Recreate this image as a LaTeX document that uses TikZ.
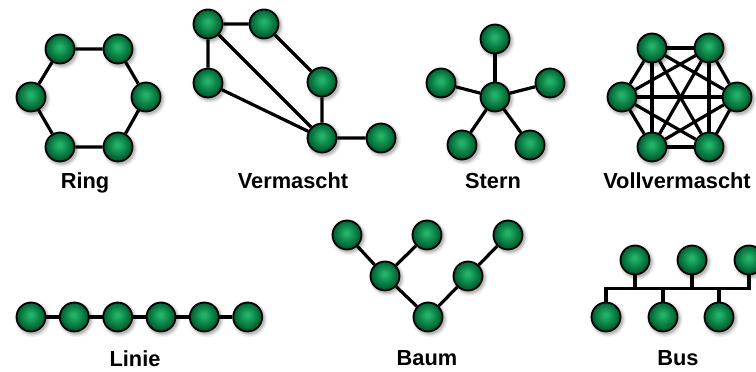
\documentclass[tikz,border=0pt]{standalone}
\usepackage{fontspec}
\setmainfont{Liberation Sans}
\usetikzlibrary{shadows}
\definecolor{nodelight}{RGB}{34,178,104}
\definecolor{nodedark}{RGB}{0,102,52}
\pgfdeclareradialshading{greenball}{\pgfpoint{-1bp}{4bp}}{color(0bp)=(nodelight); color(3bp)=(nodelight); color(22bp)=(nodedark); color(25bp)=(nodedark!85!black); color(50bp)=(nodedark!85!black)}
\pgfdeclarelayer{bg}
\pgfsetlayers{bg,main}
\tikzset{
  nd/.style={circle, draw=black, line width=1.8pt, minimum size=29pt, inner sep=0pt,
    shading=greenball,
    circular drop shadow={shadow xshift=1.2pt, shadow yshift=-1.5pt, shadow scale=1.28, opacity=0.10, fill=black},
    circular drop shadow={shadow xshift=1.2pt, shadow yshift=-1.5pt, shadow scale=1.15, opacity=0.18, fill=black}},
  ed/.style={line width=3.2pt, draw=black},
  lbl/.style={font=\fontsize{21.8}{26}\selectfont\bfseries, anchor=base, inner sep=0pt}
}
\begin{document}
\begin{tikzpicture}[x=1pt, y=-1pt]
\useasboundingbox (0,0) rectangle (756,372);
% Ring
\node[nd] (r1) at (60,49) {};
\node[nd] (r2) at (118,49) {};
\node[nd] (r3) at (146,97) {};
\node[nd] (r4) at (118,147) {};
\node[nd] (r5) at (60,147) {};
\node[nd] (r6) at (31,97) {};
\node[lbl] (lring) at (85,188) {Ring};
% Vermascht
\node[nd] (v1) at (208,24) {};
\node[nd] (v2) at (264,24) {};
\node[nd] (v3) at (208,83) {};
\node[nd] (v4) at (322,82) {};
\node[nd] (v5) at (322,138) {};
\node[nd] (v6) at (381,138) {};
\node[lbl] (lverm) at (293,188) {Vermascht};
% Stern
\node[nd] (s0) at (495,97) {};
\node[nd] (s1) at (495,39) {};
\node[nd] (s2) at (441,83) {};
\node[nd] (s3) at (550,83) {};
\node[nd] (s4) at (462,145) {};
\node[nd] (s5) at (530,145) {};
\node[lbl] (lstern) at (493,188) {Stern};
% Vollvermascht
\node[nd] (f1) at (652,48) {};
\node[nd] (f2) at (709,48) {};
\node[nd] (f3) at (737,97) {};
\node[nd] (f4) at (709,147) {};
\node[nd] (f5) at (652,147) {};
\node[nd] (f6) at (622,97) {};
\node[lbl] (lvoll) at (677,188) {Vollvermascht};
% Linie
\foreach \i/\x in {1/31,2/74.3,3/117.7,4/161,5/204.3,6/247.7}
  \node[nd] (l\i) at (\x,317) {};
\node[lbl] (llinie) at (135,366) {Linie};
% Baum
\node[nd] (b1) at (347,235) {};
\node[nd] (b2) at (427,235) {};
\node[nd] (b3) at (508,235) {};
\node[nd] (b4) at (385,276) {};
\node[nd] (b5) at (468,276) {};
\node[nd] (b6) at (428,317) {};
\node[lbl] (lbaum) at (427,365) {Baum};
% Bus
\node[nd] (t1) at (635,260) {};
\node[nd] (t2) at (692,260) {};
\node[nd] (t3) at (749,260) {};
\node[nd] (u1) at (606,317) {};
\node[nd] (u2) at (663,317) {};
\node[nd] (u3) at (719,317) {};
\coordinate (busy) at (0,288.3);
\node[lbl] (lbus) at (678,365) {Bus};
\begin{pgfonlayer}{bg}
\draw[ed] (r1)--(r2)--(r3)--(r4)--(r5)--(r6)--(r1);
\draw[ed] (v1)--(v2) (v1)--(v3) (v1)--(v5) (v3)--(v5) (v2)--(v4) (v4)--(v5) (v5)--(v6);
\foreach \i in {1,...,5} \draw[ed] (s0)--(s\i);
\foreach \i in {1,...,5}{
  \pgfmathtruncatemacro{\s}{\i+1}
  \foreach \j in {\s,...,6} \draw[ed] (f\i)--(f\j);
}
\draw[ed] (l1)--(l6);
\draw[ed] (b1)--(b4)--(b6)--(b5)--(b3) (b2)--(b4);
\draw[ed, line join=miter] (u1) -- (u1 |- busy) -- (t3 |- busy) -- (t3);
\foreach \n in {t1,t2,u2,u3} \draw[ed] (\n) -- (\n |- busy);
\end{pgfonlayer}
\end{tikzpicture}
\end{document}
